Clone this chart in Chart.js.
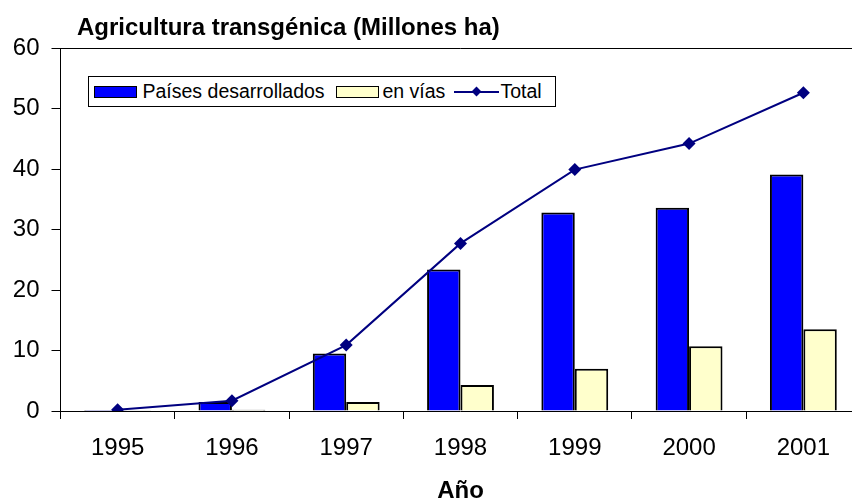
<!DOCTYPE html>
<html>
<head>
<meta charset="utf-8">
<script src="https://cdn.jsdelivr.net/npm/chart.js@4"></script>
<style>
  html, body { margin: 0; padding: 0; overflow: hidden; background: #fff; }
  body { width: 852px; height: 501px; }
  #wrap { position: relative; width: 867px; height: 510px; font-family: Arial, "Liberation Sans", sans-serif; color: #000; }
  #chart-title { position: absolute; left: 77px; top: 15px; font-weight: bold; font-size: 24px; line-height: 24px; white-space: nowrap; }
  #legend { position: absolute; left: 87.5px; top: 76px; width: 468px; height: 31px; box-sizing: border-box; border: 1px solid #000; background: #fff; }
  #legend .sw { position: absolute; top: 8.5px; width: 43px; height: 12px; box-sizing: border-box; border: 1.5px solid #000; }
  #legend .txt { position: absolute; top: 0; font-size: 19.5px; line-height: 29px; white-space: nowrap; }
  #legend .ln { position: absolute; top: 13.5px; width: 45px; height: 2px; background: #000080; }
  #legend .dm { position: absolute; top: 11px; width: 7px; height: 7px; background: #000080; transform: rotate(45deg); }
</style>
</head>
<body>
<div id="wrap">
  <canvas id="chart"></canvas>
  <div id="chart-title">Agricultura transgénica (Millones ha)</div>
  <div id="legend">
    <div class="sw" style="left:5px;background:#0000FF"></div>
    <div class="txt" style="left:54px">Países desarrollados</div>
    <div class="sw" style="left:247px;background:#FFFFCC"></div>
    <div class="txt" style="left:294px">en vías</div>
    <div class="ln" style="left:365px"></div>
    <div class="dm" style="left:384px"></div>
    <div class="txt" style="left:412px">Total</div>
  </div>
</div>
<script>
// Datos (millones de hectáreas)
const years = ['1995', '1996', '1997', '1998', '1999', '2000', '2001'];
const desarrollados = [0.15, 1.5, 9.5, 23.4, 32.8, 33.6, 39.1];
const enVias = [0.05, 0.2, 1.5, 4.3, 7.0, 10.7, 13.5];
const total = [0.2, 1.7, 10.9, 27.7, 39.9, 44.2, 52.6];
const yTicks = [0, 10, 20, 30, 40, 50, 60];

const FONT = 'Arial, "Liberation Sans", sans-serif';

new Chart(document.getElementById('chart'), {
  data: {
    labels: years,
    datasets: [
      {
        type: 'line',
        label: 'Total',
        data: total,
        borderColor: '#000080',
        backgroundColor: '#000080',
        borderWidth: 2,
        pointStyle: 'rectRot',
        pointRadius: 6.5,
        pointHoverRadius: 6.5,
        pointBorderWidth: 0,
        tension: 0,
        order: 0
      },
      {
        type: 'bar',
        label: 'Países desarrollados',
        data: desarrollados,
        backgroundColor: '#0000FF',
        borderColor: '#000',
        borderWidth: 2,
        order: 1
      },
      {
        type: 'bar',
        label: 'en vías',
        data: enVias,
        backgroundColor: '#FFFFCC',
        borderColor: '#000',
        borderWidth: 2,
        order: 1
      }
    ]
  },
  options: {
    responsive: true,
    maintainAspectRatio: false,
    animation: false,
    events: [],
    layout: { padding: { top: 48, right: 4, bottom: 0, left: 0 } },
    datasets: {
      bar: { categoryPercentage: 0.585, barPercentage: 1, inflateAmount: 0 }
    },
    plugins: {
      legend: { display: false },
      tooltip: { enabled: false }
    },
    scales: {
      x: {
        offset: true,
        z: 1,
        grid: { offset: true, color: 'transparent', tickColor: '#000', tickLength: 8 },
        border: { color: '#000', width: 1 },
        ticks: { color: '#000', padding: 15, font: { family: FONT, size: 24 } },
        title: {
          display: true,
          text: 'Año',
          color: '#000',
          font: { family: FONT, size: 24, weight: 'bold', lineHeight: 1.2 },
          padding: { top: 0, bottom: 4 }
        },
        afterFit: s => { s.height = 99; }
      },
      y: {
        min: 0,
        max: 60,
        z: 1,
        grid: {
          color: c => (c.tick && c.tick.value === 60 ? '#000' : 'transparent'),
          tickColor: '#000',
          tickLength: 9
        },
        border: { color: '#000', width: 1 },
        ticks: { color: '#000', padding: 12, font: { family: FONT, size: 24 } },
        afterBuildTicks: s => { s.ticks = yTicks.map(v => ({ value: v })); },
        afterFit: s => { s.width = 60.5; }
      }
    }
  }
});
</script>
</body>
</html>
